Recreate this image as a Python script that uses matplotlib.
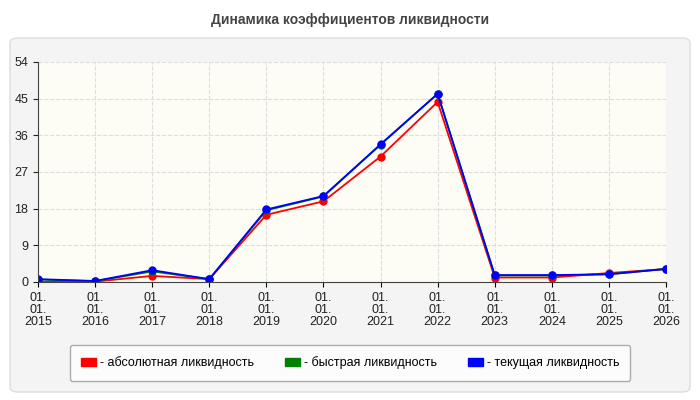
import matplotlib
matplotlib.use("Agg")
import matplotlib.pyplot as plt
from matplotlib.patches import FancyBboxPatch, Rectangle

plt.rcParams['font.family'] = ['Liberation Sans', 'DejaVu Sans']

years = ["2015","2016","2017","2018","2019","2020","2021","2022","2023","2024","2025","2026"]
labels = ["01.\n01.\n" + y for y in years]
absolute = [0.0, 0.1, 1.5, 0.7, 16.5, 19.8, 30.8, 44.2, 1.1, 1.1, 2.2, 3.2]
quick = [0.6, 0.2, 2.6, 0.7, 17.6, 21.0, 33.7, 46.2, 1.6, 1.6, 1.9, 3.2]
current = [0.7, 0.25, 2.9, 0.7, 17.8, 21.1, 33.8, 46.2, 1.7, 1.7, 1.9, 3.2]
yticks = [0, 9, 18, 27, 36, 45, 54]

fig = plt.figure(figsize=(7, 4), dpi=100)
fig.patch.set_facecolor("white")
bg = FancyBboxPatch((10/700, 8/400), 680/700, 354/400,
    boxstyle="round,pad=0,rounding_size=0.012", transform=fig.transFigure,
    facecolor="#f4f4f4", edgecolor="#dddddd", lw=1, zorder=-10)
fig.patches.append(bg)
fig.text(0.5, 1 - 20/400, "Динамика коэффициентов ликвидности", ha="center", va="center",
         fontsize=10, fontweight="bold", color="#444444")

ax = fig.add_axes([38/700, 1 - 282/400, 628/700, 220/400])
ax.set_facecolor("#fdfdf5")
x = list(range(len(years)))
ax.plot(x, absolute, color="red", marker="o", ms=5, lw=1.3, label="- абсолютная ликвидность")
ax.plot(x, quick, color="green", marker="o", ms=5, lw=1.3, label="- быстрая ликвидность")
ax.plot(x, current, color="blue", marker="o", ms=5, lw=1.3, label="- текущая ликвидность")
ax.set_xlim(0, len(years) - 1)
ax.set_ylim(0, 54)
ax.set_yticks(yticks)
ax.set_xticks(x)
ax.set_xticklabels(labels, fontsize=9, color="#222222", linespacing=1.0)
ax.tick_params(axis="y", labelsize=9, colors="#222222")
ax.grid(True, color="#dddddd", ls="--", lw=0.8)
for s in ["top", "right"]:
    ax.spines[s].set_visible(False)
ax.spines["left"].set_color("#444444")
ax.spines["bottom"].set_color("#444444")

handles, labs = ax.get_legend_handles_labels()
hs = [Rectangle((0, 0), 1, 1, color=c) for c in ["red", "green", "blue"]]
leg = fig.legend(hs, labs, loc="center", bbox_to_anchor=(350/700, 1 - 363/400), ncol=3,
                 fontsize=9, frameon=True, handlelength=1.2, handleheight=0.7,
                 handletextpad=0.3, columnspacing=2.5, borderpad=0.9)
leg.get_frame().set_edgecolor("#999999")
leg.get_frame().set_facecolor("white")
fig.savefig("out.png", dpi=100)
